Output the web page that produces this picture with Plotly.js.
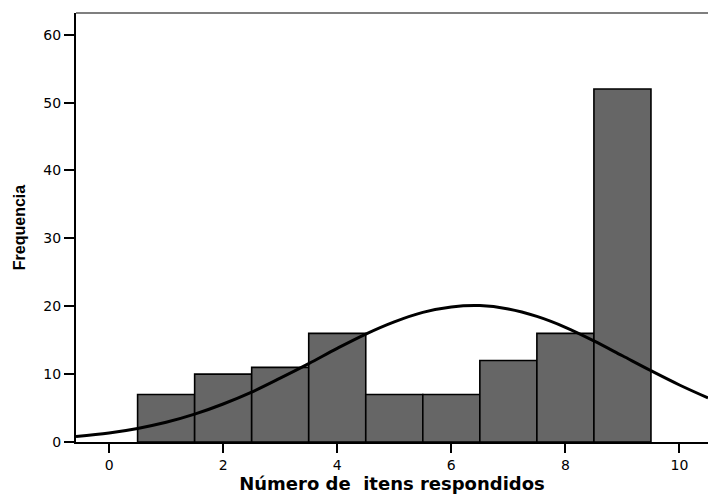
<!DOCTYPE html>
<html>
<head>
<meta charset="utf-8">
<script src="https://cdn.plot.ly/plotly-3.0.1.min.js"></script>
<style>html,body{margin:0;padding:0;background:#fff;}#chart{width:708px;height:499px;}</style>
</head>
<body>
<div id="chart"></div>
<script>
// Histogram bins (number of items answered) and their frequencies
const binCenters = [1, 2, 3, 4, 5, 6, 7, 8, 9];
const frequencies = [7, 10, 11, 16, 7, 7, 12, 16, 52];

// Normal curve
const curveX = [-0.58, 0, 0.5, 1, 1.5, 2, 2.5, 3, 3.5, 4, 4.5, 5, 5.5, 6, 6.5, 7, 7.5, 8, 8.5, 9, 9.5, 10, 10.5];
const curveY = [0.8, 1.33, 2.0, 2.9, 4.1, 5.6, 7.35, 9.4, 11.55, 13.8, 15.9, 17.7, 19.1, 19.9, 20.1, 19.6, 18.5, 16.9, 14.9, 12.7, 10.5, 8.4, 6.5];

// Axis ticks
const xTicks = [0, 2, 4, 6, 8, 10];
const yTicks = [0, 10, 20, 30, 40, 50, 60];

const tickFont = 'DejaVu Sans, Liberation Sans, sans-serif';

const traces = [
  {
    type: 'bar',
    x: binCenters,
    y: frequencies,
    width: 1,
    marker: {color: '#666666', line: {color: '#000000', width: 1.6}},
    hoverinfo: 'x+y'
  },
  {
    type: 'scatter',
    mode: 'lines',
    x: curveX,
    y: curveY,
    line: {color: '#000000', width: 3, shape: 'spline'},
    hoverinfo: 'skip'
  }
];

const layout = {
  width: 708,
  height: 499,
  margin: {l: 76, r: 0, t: 13, b: 57},
  paper_bgcolor: '#ffffff',
  plot_bgcolor: '#ffffff',
  showlegend: false,
  bargap: 0,
  font: {family: tickFont, color: '#000000', size: 14},
  xaxis: {
    range: [-0.58, 10.5],
    tickvals: xTicks,
    ticktext: xTicks.map(String),
    ticks: 'outside',
    ticklen: 9,
    tickwidth: 2,
    tickcolor: '#000',
    showgrid: false,
    zeroline: false,
    showline: true,
    linecolor: '#000',
    linewidth: 2,
    tickfont: {family: tickFont, size: 14, color: '#000'},
    title: {text: 'Número de\u00A0 itens respondidos', font: {family: 'DejaVu Sans, Liberation Sans, sans-serif', size: 18, color: '#000', weight: 'bold'}, standoff: 6}
  },
  yaxis: {
    range: [0, 63.2],
    tickvals: yTicks,
    ticktext: yTicks.map(String),
    ticks: 'outside',
    ticklen: 10,
    tickwidth: 2,
    tickcolor: '#000',
    showgrid: false,
    zeroline: false,
    showline: true,
    linecolor: '#000',
    linewidth: 2,
    tickfont: {family: tickFont, size: 14, color: '#000'},
    title: {text: 'Frequencia', font: {family: 'Liberation Sans, Arial, sans-serif', size: 16, color: '#000', weight: 'bold'}, standoff: 14}
  },
  shapes: [
    {type: 'line', xref: 'paper', yref: 'paper', x0: 0, x1: 1, y0: 1, y1: 1, line: {color: '#555555', width: 1.5}}
  ]
};

Plotly.newPlot('chart', traces, layout, {displayModeBar: false, staticPlot: true});
</script>
</body>
</html>
